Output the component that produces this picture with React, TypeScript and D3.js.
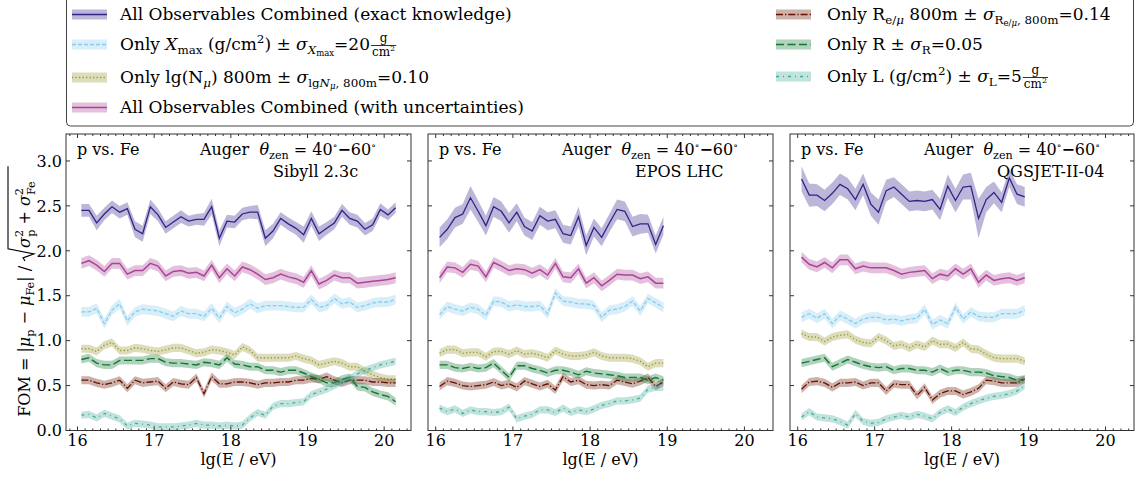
import React, { useEffect, useRef } from "react";
import * as d3 from "d3";

// energy bins, lg(E/eV)
const lgE = [16.05, 16.15, 16.25, 16.35, 16.45, 16.55, 16.65, 16.75, 16.85, 16.95, 17.05, 17.15, 17.25, 17.35,
  17.45, 17.55, 17.65, 17.75, 17.85, 17.95, 18.05, 18.15, 18.25, 18.35, 18.45, 18.55, 18.65, 18.75, 18.85, 18.95,
  19.05, 19.15, 19.25, 19.35, 19.45, 19.55, 19.65, 19.75, 19.85, 19.95, 20.05, 20.15];

const xTicks = [16, 17, 18, 19, 20];
const yTicks = [0.0, 0.5, 1.0, 1.5, 2.0, 2.5, 3.0];

// Sibyll 2.3c
const sibExact = [2.45, 2.45, 2.31, 2.41, 2.49, 2.43, 2.47, 2.24, 2.19, 2.49, 2.40, 2.26, 2.32, 2.38, 2.33, 2.35, 2.35, 2.49, 2.14, 2.33, 2.32,
  2.41, 2.43, 2.43, 2.14, 2.22, 2.36, 2.30, 2.25, 2.18, 2.36, 2.19, 2.25, 2.31, 2.45, 2.36, 2.33, 2.24, 2.29, 2.46, 2.40, 2.48];
const sibExactErr = [0.07, 0.07, 0.08, 0.07, 0.07, 0.07, 0.07, 0.09, 0.09, 0.08, 0.07, 0.07, 0.07, 0.07, 0.06, 0.06, 0.07, 0.09, 0.09, 0.07, 0.07,
  0.07, 0.07, 0.08, 0.09, 0.08, 0.07, 0.07, 0.07, 0.09, 0.08, 0.08, 0.07, 0.07, 0.07, 0.07, 0.07, 0.07, 0.07, 0.07, 0.06, 0.06];
const sibComb = [1.86, 1.89, 1.84, 1.77, 1.86, 1.86, 1.74, 1.78, 1.78, 1.86, 1.83, 1.72, 1.77, 1.78, 1.75, 1.76, 1.72, 1.84, 1.70, 1.80, 1.72,
  1.82, 1.79, 1.74, 1.68, 1.70, 1.74, 1.71, 1.69, 1.65, 1.78, 1.63, 1.67, 1.73, 1.70, 1.70, 1.64, 1.65, 1.66, 1.67, 1.68, 1.70];
const sibXmax = [1.32, 1.32, 1.36, 1.19, 1.34, 1.41, 1.22, 1.32, 1.35, 1.34, 1.33, 1.30, 1.27, 1.33, 1.30, 1.30, 1.27, 1.36, 1.25, 1.38, 1.31,
  1.35, 1.41, 1.36, 1.39, 1.39, 1.39, 1.38, 1.37, 1.37, 1.46, 1.37, 1.39, 1.47, 1.41, 1.43, 1.37, 1.39, 1.42, 1.43, 1.43, 1.46];
const sibLgN = [0.91, 0.91, 0.88, 0.95, 0.98, 0.89, 0.89, 0.92, 0.91, 0.89, 0.88, 0.90, 0.92, 0.92, 0.89, 0.86, 0.87, 0.90, 0.89, 0.87, 0.84,
  0.93, 0.89, 0.81, 0.81, 0.81, 0.81, 0.81, 0.83, 0.80, 0.78, 0.73, 0.75, 0.77, 0.75, 0.71, 0.71, 0.66, 0.62, 0.59, 0.57, 0.57];
const sibR = [0.79, 0.81, 0.75, 0.73, 0.73, 0.78, 0.78, 0.78, 0.78, 0.80, 0.80, 0.76, 0.75, 0.75, 0.74, 0.73, 0.76, 0.75, 0.73, 0.81, 0.74,
  0.73, 0.71, 0.71, 0.67, 0.67, 0.65, 0.67, 0.67, 0.64, 0.60, 0.57, 0.53, 0.53, 0.57, 0.59, 0.49, 0.48, 0.43, 0.40, 0.38, 0.32];
const sibRemu = [0.56, 0.56, 0.53, 0.51, 0.53, 0.56, 0.47, 0.56, 0.53, 0.54, 0.55, 0.47, 0.54, 0.52, 0.51, 0.59, 0.41, 0.60, 0.52, 0.52, 0.54,
  0.54, 0.53, 0.51, 0.53, 0.53, 0.54, 0.54, 0.56, 0.56, 0.58, 0.57, 0.60, 0.56, 0.53, 0.56, 0.56, 0.56, 0.54, 0.54, 0.53, 0.53];
const sibL = [0.17, 0.18, 0.14, 0.19, 0.16, 0.13, 0.05, 0.08, 0.07, 0.06, 0.04, 0.04, 0.04, 0.05, 0.06, 0.08, 0.06, 0.06, 0.05, 0.06, 0.05,
  0.06, 0.14, 0.20, 0.17, 0.27, 0.30, 0.30, 0.31, 0.32, 0.40, 0.43, 0.46, 0.50, 0.54, 0.58, 0.63, 0.67, 0.70, 0.73, 0.75, 0.77];

// EPOS LHC
const eposExact = [2.15, 2.24, 2.37, 2.41, 2.59, 2.44, 2.28, 2.49, 2.44, 2.31, 2.43, 2.27, 2.22, 2.39, 2.33,
  2.35, 2.19, 2.17, 2.38, 2.06, 2.26, 2.15, 2.31, 2.46, 2.44, 2.27, 2.30, 2.30, 2.07, 2.28];
const eposExactErr = [0.11, 0.11, 0.11, 0.11, 0.13, 0.12, 0.11, 0.11, 0.11, 0.11, 0.10, 0.10, 0.10, 0.10, 0.10,
  0.10, 0.10, 0.10, 0.11, 0.11, 0.10, 0.10, 0.10, 0.11, 0.11, 0.11, 0.11, 0.10, 0.10, 0.10];
const eposComb = [1.70, 1.82, 1.81, 1.76, 1.85, 1.83, 1.71, 1.87, 1.83, 1.78, 1.80, 1.79, 1.75, 1.79, 1.73,
  1.86, 1.71, 1.70, 1.80, 1.64, 1.70, 1.61, 1.67, 1.74, 1.73, 1.73, 1.69, 1.71, 1.64, 1.64];
const eposXmax = [1.29, 1.38, 1.35, 1.33, 1.37, 1.35, 1.28, 1.44, 1.43, 1.38, 1.40, 1.38, 1.38, 1.39, 1.30,
  1.53, 1.44, 1.43, 1.41, 1.41, 1.39, 1.26, 1.34, 1.35, 1.38, 1.44, 1.33, 1.47, 1.42, 1.37];
const eposLgN = [0.86, 0.90, 0.90, 0.86, 0.87, 0.87, 0.82, 0.88, 0.88, 0.85, 0.89, 0.85, 0.86, 0.84, 0.81,
  0.89, 0.85, 0.83, 0.83, 0.84, 0.87, 0.83, 0.81, 0.81, 0.81, 0.80, 0.77, 0.71, 0.75, 0.75];
const eposR = [0.73, 0.73, 0.70, 0.69, 0.71, 0.69, 0.70, 0.75, 0.67, 0.59, 0.72, 0.72, 0.69, 0.67, 0.64,
  0.67, 0.67, 0.65, 0.62, 0.66, 0.64, 0.63, 0.62, 0.61, 0.59, 0.59, 0.59, 0.56, 0.59, 0.56];
const eposRemu = [0.49, 0.55, 0.53, 0.50, 0.49, 0.50, 0.51, 0.54, 0.50, 0.52, 0.48, 0.55, 0.52, 0.49, 0.52,
  0.45, 0.60, 0.54, 0.56, 0.51, 0.50, 0.51, 0.50, 0.56, 0.54, 0.52, 0.55, 0.59, 0.49, 0.54];
const eposL = [0.25, 0.21, 0.24, 0.19, 0.23, 0.21, 0.21, 0.20, 0.21, 0.26, 0.13, 0.16, 0.18, 0.23, 0.23,
  0.20, 0.25, 0.20, 0.23, 0.21, 0.24, 0.28, 0.30, 0.33, 0.33, 0.34, 0.36, 0.46, 0.48, 0.48];

// QGSJET-II-04
const qgsExact = [2.80, 2.62, 2.62, 2.56, 2.64, 2.74, 2.69, 2.57, 2.74, 2.52, 2.43, 2.67, 2.71, 2.63, 2.55,
  2.56, 2.55, 2.57, 2.46, 2.72, 2.56, 2.71, 2.72, 2.36, 2.57, 2.65, 2.54, 2.81, 2.63, 2.60];
const qgsExactErr = [0.14, 0.13, 0.12, 0.12, 0.12, 0.12, 0.12, 0.12, 0.12, 0.13, 0.14, 0.12, 0.11, 0.11, 0.11,
  0.11, 0.11, 0.11, 0.12, 0.13, 0.13, 0.14, 0.15, 0.22, 0.14, 0.12, 0.11, 0.10, 0.11, 0.11];
const qgsComb = [1.93, 1.85, 1.82, 1.87, 1.81, 1.90, 1.90, 1.80, 1.83, 1.81, 1.81, 1.81, 1.78, 1.74, 1.76,
  1.77, 1.78, 1.69, 1.74, 1.72, 1.80, 1.74, 1.80, 1.65, 1.73, 1.67, 1.69, 1.70, 1.67, 1.70];
const qgsXmax = [1.26, 1.30, 1.25, 1.30, 1.19, 1.28, 1.24, 1.19, 1.24, 1.26, 1.26, 1.23, 1.24, 1.22, 1.24,
  1.25, 1.35, 1.18, 1.23, 1.19, 1.37, 1.24, 1.32, 1.27, 1.26, 1.26, 1.30, 1.30, 1.30, 1.34];
const qgsLgN = [1.08, 1.04, 1.04, 0.99, 1.04, 1.06, 1.07, 1.01, 0.98, 0.97, 1.04, 1.00, 0.94, 0.96, 0.92,
  0.96, 0.93, 1.00, 0.96, 0.96, 0.92, 0.98, 0.91, 0.90, 0.85, 0.81, 0.80, 0.80, 0.80, 0.77];
const qgsR = [0.75, 0.77, 0.79, 0.81, 0.71, 0.75, 0.79, 0.76, 0.73, 0.71, 0.70, 0.71, 0.67, 0.69, 0.69,
  0.67, 0.67, 0.65, 0.69, 0.65, 0.67, 0.67, 0.65, 0.65, 0.64, 0.61, 0.60, 0.59, 0.56, 0.57];
const qgsRemu = [0.46, 0.54, 0.55, 0.53, 0.48, 0.53, 0.53, 0.54, 0.50, 0.53, 0.53, 0.44, 0.52, 0.51, 0.51,
  0.39, 0.48, 0.34, 0.41, 0.44, 0.44, 0.40, 0.43, 0.47, 0.56, 0.55, 0.53, 0.53, 0.53, 0.57];
const qgsL = [0.15, 0.21, 0.15, 0.14, 0.13, 0.10, 0.06, 0.19, 0.10, 0.08, 0.09, 0.13, 0.15, 0.17, 0.15,
  0.18, 0.16, 0.13, 0.20, 0.24, 0.20, 0.26, 0.30, 0.33, 0.36, 0.38, 0.39, 0.41, 0.44, 0.50];

// half widths of the bands of the single-observable curves
const bandHalf = { xmax: 0.055, lgn: 0.045, comb: 0.06, remu: 0.045, r: 0.045, l: 0.04 };

const models = ["Sibyll 2.3c", "EPOS LHC", "QGSJET-II-04"];

const styles = [
  { key: "exact", color: "#332288", dash: null, lw: 1.3 },
  { key: "xmax", color: "#88CCEE", dash: "4,2", lw: 1.3 },
  { key: "lgn", color: "#999933", dash: "1.3,2.2", lw: 1.4 },
  { key: "comb", color: "#AA4499", dash: null, lw: 1.5 },
  { key: "remu", color: "#661100", dash: "7,2,1.3,2", lw: 1.3 },
  { key: "r", color: "#117733", dash: "8,3.5", lw: 1.4 },
  { key: "l", color: "#44AA99", dash: "3,4,1,4", lw: 1.3 },
];

// legend labels as rich-text segments: o = vertical offset (em, down), s = size scale, it = italic
const legendLabels = [
  [{ t: "All Observables Combined (exact knowledge)" }],
  [{ t: "Only " }, { t: "X", it: 1 }, { t: "max", o: 0.22, s: 0.7 }, { t: " (g/cm" }, { t: "2", o: -0.4, s: 0.7 },
    { t: ") ± " }, { t: "σ", it: 1 }, { t: "X", it: 1, o: 0.25, s: 0.7 }, { t: "max", o: 0.38, s: 0.5 }, { t: "=20" }],
  [{ t: "Only lg(N" }, { t: "μ", it: 1, o: 0.22, s: 0.7 }, { t: ") 800m ± " }, { t: "σ", it: 1 }, { t: "lg", o: 0.25, s: 0.7 },
    { t: "N", it: 1, o: 0.25, s: 0.7 }, { t: "μ", it: 1, o: 0.38, s: 0.5 }, { t: ", 800m", o: 0.25, s: 0.7 }, { t: "=0.10" }],
  [{ t: "All Observables Combined (with uncertainties)" }],
  [{ t: "Only R" }, { t: "e/", o: 0.22, s: 0.7 }, { t: "μ", it: 1, o: 0.22, s: 0.7 }, { t: " 800m ± " }, { t: "σ", it: 1 },
    { t: "R", o: 0.25, s: 0.7 }, { t: "e/", o: 0.38, s: 0.5 }, { t: "μ", it: 1, o: 0.38, s: 0.5 }, { t: ", 800m", o: 0.25, s: 0.7 }, { t: "=0.14" }],
  [{ t: "Only R ± " }, { t: "σ", it: 1 }, { t: "R", o: 0.25, s: 0.7 }, { t: "=0.05" }],
  [{ t: "Only L (g/cm" }, { t: "2", o: -0.4, s: 0.7 }, { t: ") ± " }, { t: "σ", it: 1 }, { t: "L", o: 0.25, s: 0.7 }, { t: "=5" }],
];

function rich(sel, x, y, segs, size) {
  const t = sel.append("text").attr("x", x).attr("y", y).attr("font-size", size).style("white-space", "pre");
  let cur = 0;
  segs.forEach(sg => {
    const off = (sg.o || 0) * size;
    const ts = t.append("tspan").attr("dy", off - cur).text(sg.t);
    cur = off;
    if (sg.s) ts.attr("font-size", size * sg.s);
    if (sg.it) ts.attr("font-style", "italic");
    if (sg.dx) ts.attr("dx", sg.dx);
    if (sg.b) ts.attr("font-weight", "bold");
  });
  return t;
}

function fraction(sel, x, base) {
  const bar = base - 4.5;
  const num = sel.append("text").attr("font-size", 12).attr("y", bar - 4).text("g");
  const den = sel.append("text").attr("font-size", 12).attr("y", bar + 10);
  den.append("tspan").text("cm");
  den.append("tspan").attr("font-size", 8).attr("dy", -4.5).text("2");
  const wn = num.node().getComputedTextLength();
  const wd = den.node().getComputedTextLength();
  const w = Math.max(wn, wd) + 2;
  num.attr("x", x + (w - wn) / 2);
  den.attr("x", x + (w - wd) / 2);
  sel.append("line").attr("x1", x).attr("x2", x + w).attr("y1", bar).attr("y2", bar)
    .attr("stroke", "black").attr("stroke-width", 0.8);
}

const App = () => {
  const svgRef = useRef(null);

  useEffect(() => {
    const svg = d3.select(svgRef.current);
    svg.selectAll("*").remove();

    const width = 1136, height = 477;
    const top = 134, bottom = 430.5;
    svg.attr("width", width).attr("height", height).attr("font-family", "DejaVu Serif");
    svg.append("rect").attr("width", width).attr("height", height).attr("fill", "white");

    const panels = [
      { left: 66, w: 345, xlim: [15.85, 20.35], model: models[0],
        data: { exact: sibExact, xmax: sibXmax, lgn: sibLgN, comb: sibComb, remu: sibRemu, r: sibR, l: sibL }, exactErr: sibExactErr },
      { left: 428, w: 345, xlim: [15.9, 20.37], model: models[1],
        data: { exact: eposExact, xmax: eposXmax, lgn: eposLgN, comb: eposComb, remu: eposRemu, r: eposR, l: eposL }, exactErr: eposExactErr },
      { left: 790, w: 344, xlim: [15.9, 20.37], model: models[2],
        data: { exact: qgsExact, xmax: qgsXmax, lgn: qgsLgN, comb: qgsComb, remu: qgsRemu, r: qgsR, l: qgsL }, exactErr: qgsExactErr },
    ];

    const y = d3.scaleLinear().domain([0, 3.3]).range([bottom, top]);
    const minor = d3.range(158, 204).map(v => v / 10);

    panels.forEach((p, pi) => {
      const x = d3.scaleLinear().domain(p.xlim).range([p.left, p.left + p.w]);
      const g = svg.append("g");
      const clipId = `clip${pi}`;
      svg.append("clipPath").attr("id", clipId).append("rect")
        .attr("x", p.left).attr("y", top).attr("width", p.w).attr("height", bottom - top);
      const plot = g.append("g").attr("clip-path", `url(#${clipId})`);

      styles.forEach(st => {
        const vals = p.data[st.key];
        const err = i => (st.key === "exact" ? p.exactErr[i] : bandHalf[st.key]);
        const area = d3.area()
          .x((d, i) => x(lgE[i]))
          .y0((d, i) => y(d - err(i)))
          .y1((d, i) => y(d + err(i)));
        plot.append("path").datum(vals).attr("d", area)
          .attr("fill", st.color).attr("fill-opacity", 0.33).attr("stroke", "none");
        const line = d3.line().x((d, i) => x(lgE[i])).y(d => y(d));
        plot.append("path").datum(vals).attr("d", line)
          .attr("fill", "none").attr("stroke", st.color).attr("stroke-width", st.lw)
          .attr("stroke-dasharray", st.dash);
      });

      // frame
      g.append("rect").attr("x", p.left).attr("y", top).attr("width", p.w).attr("height", bottom - top)
        .attr("fill", "none").attr("stroke", "#333").attr("stroke-width", 1);

      // ticks, pointing inward on all four sides
      xTicks.forEach(v => {
        g.append("line").attr("x1", x(v)).attr("x2", x(v)).attr("y1", bottom).attr("y2", bottom - 4).attr("stroke", "#333");
        g.append("line").attr("x1", x(v)).attr("x2", x(v)).attr("y1", top).attr("y2", top + 4).attr("stroke", "#333");
        g.append("text").attr("x", x(v)).attr("y", 446).attr("text-anchor", "middle").attr("font-size", 16).text(v);
      });
      minor.filter(v => xTicks.indexOf(v) < 0 && v > p.xlim[0] && v < p.xlim[1]).forEach(v => {
        g.append("line").attr("x1", x(v)).attr("x2", x(v)).attr("y1", bottom).attr("y2", bottom - 2).attr("stroke", "#333");
        g.append("line").attr("x1", x(v)).attr("x2", x(v)).attr("y1", top).attr("y2", top + 2).attr("stroke", "#333");
      });
      yTicks.forEach(v => {
        g.append("line").attr("x1", p.left).attr("x2", p.left + 4).attr("y1", y(v)).attr("y2", y(v)).attr("stroke", "#333");
        g.append("line").attr("x1", p.left + p.w).attr("x2", p.left + p.w - 4).attr("y1", y(v)).attr("y2", y(v)).attr("stroke", "#333");
        if (pi === 0) {
          g.append("text").attr("x", p.left - 4).attr("y", y(v)).attr("dy", "0.36em").attr("text-anchor", "end")
            .attr("font-size", 16).text(d3.format(".1f")(v));
        }
      });

      g.append("text").attr("x", p.left + p.w / 2).attr("y", 465).attr("text-anchor", "middle")
        .attr("font-size", 16).text("lg(E / eV)");

      // annotations
      g.append("text").attr("x", p.left + 11).attr("y", 155).attr("font-size", 16).text("p vs. Fe");
      rich(g, p.left + 134, 155, [
        { t: "Auger  " }, { t: "θ", it: 1 }, { t: "zen", o: 0.22, s: 0.7 }, { t: " = 40" },
        { t: "∘", o: -0.4, s: 0.6 }, { t: "−", b: 1 }, { t: "60" }, { t: "∘", o: -0.4, s: 0.6 },
      ], 16);
      g.append("text").attr("x", p.left + 207).attr("y", 177).attr("font-size", 16).text(p.model);
    });

    // y label, rotated
    const yl = svg.append("g").attr("transform", "translate(30,292) rotate(-90)");
    const partA = rich(yl, 0, 0, [
      { t: "FOM = |" }, { t: "μ", it: 1 }, { t: "p", o: 0.22, s: 0.7 }, { t: " − " }, { t: "μ", it: 1 },
      { t: "Fe", o: 0.22, s: 0.7 }, { t: "| / " },
    ], 16);
    const partB = rich(yl, 0, 0, [
      { t: "σ", it: 1 }, { t: "2", o: -0.42, s: 0.7 }, { t: "p", o: 0.3, s: 0.7, dx: -7 }, { t: " + " },
      { t: "σ", it: 1 }, { t: "2", o: -0.42, s: 0.7 }, { t: "Fe", o: 0.3, s: 0.7, dx: -7 },
    ], 16);
    const wA = partA.node().getComputedTextLength();
    const wB = partB.node().getComputedTextLength();
    const rad = 13;
    const x0 = -(wA + rad + wB) / 2;
    partA.attr("x", x0);
    partB.attr("x", x0 + wA + rad);
    const rx = x0 + wA;
    yl.append("path")
      .attr("d", `M${rx},-5 L${rx + 3},-7 L${rx + 7},4 L${rx + 12},-22 H${rx + rad + wB + 1}`)
      .attr("fill", "none").attr("stroke", "black").attr("stroke-width", 1.1);

    // legend
    const lg = svg.append("g");
    lg.append("rect").attr("x", 66.5).attr("y", -4).attr("width", 1067).attr("height", 130).attr("rx", 4)
      .attr("fill", "white").attr("stroke", "#444").attr("stroke-width", 1);
    const rows = [
      { hx: 72, tx: 120, base: 20, frac: false },
      { hx: 72, tx: 120, base: 50, frac: true },
      { hx: 72, tx: 120, base: 83, frac: false },
      { hx: 72, tx: 120, base: 113, frac: false },
      { hx: 776, tx: 827, base: 20, frac: false },
      { hx: 776, tx: 827, base: 50, frac: false },
      { hx: 776, tx: 827, base: 82, frac: true },
    ];
    const legendOrder = ["exact", "xmax", "lgn", "comb", "remu", "r", "l"];
    rows.forEach((r, i) => {
      const st = styles.find(s => s.key === legendOrder[i]);
      const cy = r.base - 5.5;
      lg.append("rect").attr("x", r.hx).attr("y", cy - 5).attr("width", 35).attr("height", 10)
        .attr("fill", st.color).attr("fill-opacity", 0.33);
      lg.append("line").attr("x1", r.hx).attr("x2", r.hx + 35).attr("y1", cy).attr("y2", cy)
        .attr("stroke", st.color).attr("stroke-width", st.lw).attr("stroke-dasharray", st.dash);
      const t = rich(lg, r.tx, r.base, legendLabels[i], 17);
      if (r.frac) fraction(lg, r.tx + t.node().getComputedTextLength() + 1, r.base);
    });
  }, []);

  return (
    <div style={{ position: "absolute", left: 0, top: 0 }}>
      <svg ref={svgRef} style={{ display: "block" }}></svg>
    </div>
  );
};

export default App;
